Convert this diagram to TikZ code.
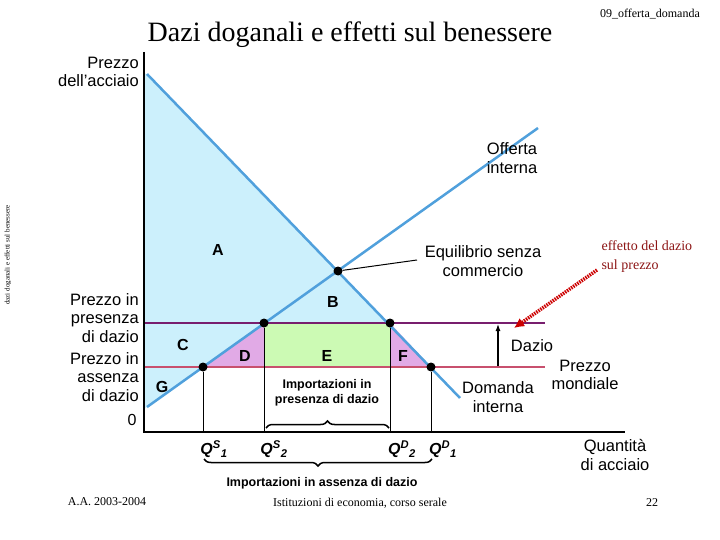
\documentclass[tikz,border=0pt]{standalone}
\usepackage{fontspec}
\setmainfont{Liberation Serif}
\setsansfont{Liberation Sans}
\usetikzlibrary{decorations.pathreplacing,arrows.meta}
\begin{document}
\begin{tikzpicture}[x=1pt,y=-1pt,
 lab/.style={font=\sffamily\fontsize{16.5}{18.5}\selectfont,align=center,inner sep=0},
 letter/.style={font=\sffamily\bfseries\fontsize{16}{18}\selectfont,inner sep=0},
 qlab/.style={font=\sffamily\bfseries\itshape\fontsize{16}{18}\selectfont,inner sep=0},
 small/.style={font=\sffamily\bfseries\fontsize{12.5}{15}\selectfont,align=center,inner sep=0},
 curve/.style={draw={rgb,255:red,80;green,160;blue,220},line width=2.5pt},
 dot/.style={circle,fill=black,minimum size=9pt,inner sep=0}]
\useasboundingbox (0,0) rectangle (720,540);
\fill[fill={rgb,255:red,204;green,240;blue,252}] (144,72) -- (431,367) -- (203,367) -- (147,407) -- (144,409) -- cycle;
\fill[fill={rgb,255:red,225;green,170;blue,230}] (203,367) -- (264,323) -- (264,367) -- cycle;
\fill[fill={rgb,255:red,225;green,170;blue,230}] (390,323) -- (431,367) -- (390,367) -- cycle;
\fill[fill={rgb,255:red,204;green,250;blue,180}] (264,323) rectangle (390,367);
\draw[line width=1.8pt,draw={rgb,255:red,120;green,30;blue,110}] (144,323) -- (545,323);
\draw[line width=1.8pt,draw={rgb,255:red,200;green,80;blue,110}] (144,367) -- (545,367);
\draw[curve] (147,74) -- (460,398);
\draw[curve] (147,407) -- (538,128);
\node[dot] (eq) at (338,271) {};
\node[dot] (d1) at (264,323) {};
\node[dot] (d2) at (390,323) {};
\node[dot] (d3) at (203,367) {};
\node[dot] (d4) at (431,367) {};
\coordinate (b1) at (264,432); \coordinate (b2) at (390,432);
\coordinate (b3) at (203,432); \coordinate (b4) at (431,432);
\draw[line width=1pt] (d1) -- (b1) (d2) -- (b2) (d3) -- (b3) (d4) -- (b4);
\draw[line width=2pt] (144,52) -- (144,432) -- (625,432);
\node[letter] (A) at (218,250) {A};
\node[letter] (B) at (333,302) {B};
\node[letter] (C) at (183,345) {C};
\node[letter] (D) at (245,356) {D};
\node[letter] (E) at (327,356) {E};
\node[letter] (F) at (403,356) {F};
\node[letter] (G) at (162,387) {G};
\node[lab,align=right,anchor=east] at (139,72) {Prezzo\\dell'acciaio};
\node[lab,align=right,anchor=east] at (139,318) {Prezzo in\\presenza\\di dazio};
\node[lab,align=right,anchor=east] at (139,377) {Prezzo in\\assenza\\di dazio};
\node[font=\sffamily\fontsize{16}{18}\selectfont] at (132,420) {0};
\node[qlab] at (214,449) {Q\textsuperscript{S}\textsubscript{1}};
\node[qlab] at (274,449) {Q\textsuperscript{S}\textsubscript{2}};
\node[qlab] at (402,449) {Q\textsuperscript{D}\textsubscript{2}};
\node[qlab] at (443,449) {Q\textsuperscript{D}\textsubscript{1}};
\node[small] at (327,393) {Importazioni in\\presenza di dazio};
\draw[decorate,decoration={brace,amplitude=7pt},line width=1.5pt] (266,428) -- (389,428);
\draw[decorate,decoration={brace,amplitude=7pt,mirror},line width=1.5pt] (204,459) -- (432,459);
\node[small] at (322,483) {Importazioni in assenza di dazio};
\node[lab] (eqlab) at (483,261) {Equilibrio senza\\commercio};
\draw[line width=1pt] (eq) -- (417,260);
\node[lab] at (512,158) {Offerta\\interna};
\node[lab] at (498,397) {Domanda\\interna};
\node[lab] at (585,375) {Prezzo\\mondiale};
\node[lab] at (532,346) {Dazio};
\coordinate (dz0) at (498,366); \coordinate (dz1) at (498,324);
\draw[line width=1.2pt,-{Latex[length=7pt,width=5pt]}] (dz0) -- (dz1);
\node[lab] at (615,455) {Quantità\\di acciaio};
\coordinate (r0) at (597,270); \coordinate (r1) at (514,328);
\draw[red!80!black,line width=3.5pt,dash pattern=on 1.5pt off 1pt,-{Latex[length=10pt,width=10pt]}] (r0) -- (r1);
\node[font=\fontsize{14}{19}\selectfont,text={rgb,255:red,140;green,20;blue,20},align=left,anchor=west] at (598,257) {effetto del dazio\\sul prezzo};
\node[font=\fontsize{28}{30}\selectfont] at (350,35) {Dazi doganali e effetti sul benessere};
\node[font=\fontsize{12}{14}\selectfont] at (650,14) {09\_offerta\_domanda};
\node[font=\fontsize{7}{8}\selectfont,rotate=90] at (8,255) {dazi doganali e effetti sul benessere};
\node[font=\fontsize{12}{14}\selectfont] at (107,502) {A.A. 2003-2004};
\node[font=\fontsize{12}{14}\selectfont] at (360,503) {Istituzioni di economia, corso serale};
\node[font=\fontsize{12}{14}\selectfont] at (652,503) {22};
\end{tikzpicture}
\end{document}
